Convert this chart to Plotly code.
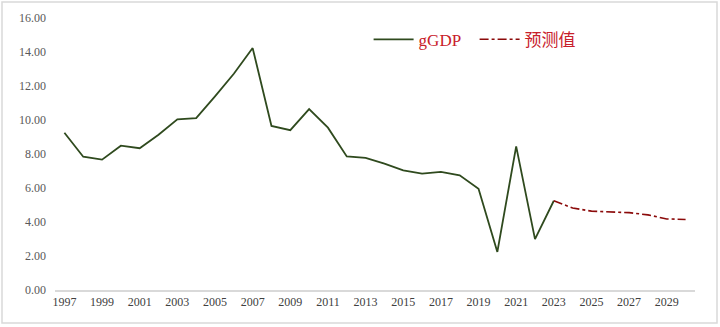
import plotly.graph_objects as go

# Real GDP growth (%), actual 1997-2023
years_actual = list(range(1997, 2024))
ggdp = [9.25, 7.84, 7.67, 8.49, 8.34, 9.13, 10.04, 10.11, 11.39, 12.72,
        14.23, 9.65, 9.40, 10.64, 9.55, 7.86, 7.77, 7.43, 7.04, 6.85,
        6.95, 6.75, 5.95, 2.24, 8.45, 2.99, 5.25]

# Forecast 2023-2030 (starts from the last actual value)
years_fc = list(range(2023, 2031))
forecast = [5.25, 4.82, 4.64, 4.60, 4.55, 4.42, 4.18, 4.15]

tick_years = list(range(1997, 2031, 2))
y_ticks = [0, 2, 4, 6, 8, 10, 12, 14, 16]

serif = "Liberation Serif, Times New Roman, serif"

fig = go.Figure()
fig.add_trace(go.Scatter(
    x=years_actual, y=ggdp, mode="lines", name="gGDP",
    line=dict(color="#2f4a1e", width=1.8),
))
fig.add_trace(go.Scatter(
    x=years_fc, y=forecast, mode="lines", name="预测值",
    line=dict(color="#8b0a0a", width=1.6, dash="dashdot"),
))

W, H = 720, 327
ml, mr, mt, mb = 55, 25, 18, 37

fig.update_layout(
    width=W, height=H,
    margin=dict(l=ml, r=mr, t=mt, b=mb),
    paper_bgcolor="white", plot_bgcolor="white",
    font=dict(family=serif, color="#595959", size=12),
    showlegend=True,
    legend=dict(
        orientation="h", x=0.49, y=0.92, xanchor="left", yanchor="middle",
        font=dict(family=serif + ", Noto Sans CJK SC", size=17, color="#c8202a"),
        bgcolor="rgba(0,0,0,0)", itemwidth=40, entrywidth=51,
        tracegroupgap=0,
    ),
    xaxis=dict(
        range=[1996.5, 2030.5], tickmode="array", tickvals=tick_years,
        ticktext=[str(y) for y in tick_years],
        showgrid=False, zeroline=False, showline=True,
        linecolor="#d9d9d9", linewidth=1.5, ticks="",
        tickfont=dict(family=serif, size=12, color="#404040"),
        fixedrange=True,
    ),
    yaxis=dict(
        range=[0, 16], tickmode="array", tickvals=y_ticks,
        ticktext=[f"{v:.2f}" for v in y_ticks],
        showgrid=False, zeroline=False, showline=False, ticks="",
        ticklabelstandoff=8,
        tickfont=dict(family=serif, size=12, color="#595959"),
        fixedrange=True,
    ),
)

# Light chart-area frame, inset a couple of pixels from the figure edge
pw, ph = W - ml - mr, H - mt - mb
fx0, fx1, fy_top, fy_bot = 2, W - 3, 2, H - 4
fig.add_shape(
    type="rect", xref="paper", yref="paper",
    x0=(fx0 - ml) / pw, x1=(fx1 - ml) / pw,
    y0=(H - mb - fy_bot) / ph, y1=(H - mb - fy_top) / ph,
    line=dict(color="#d9d9d9", width=1.5), fillcolor="rgba(0,0,0,0)",
    layer="below",
)

fig.write_html("out.html")
